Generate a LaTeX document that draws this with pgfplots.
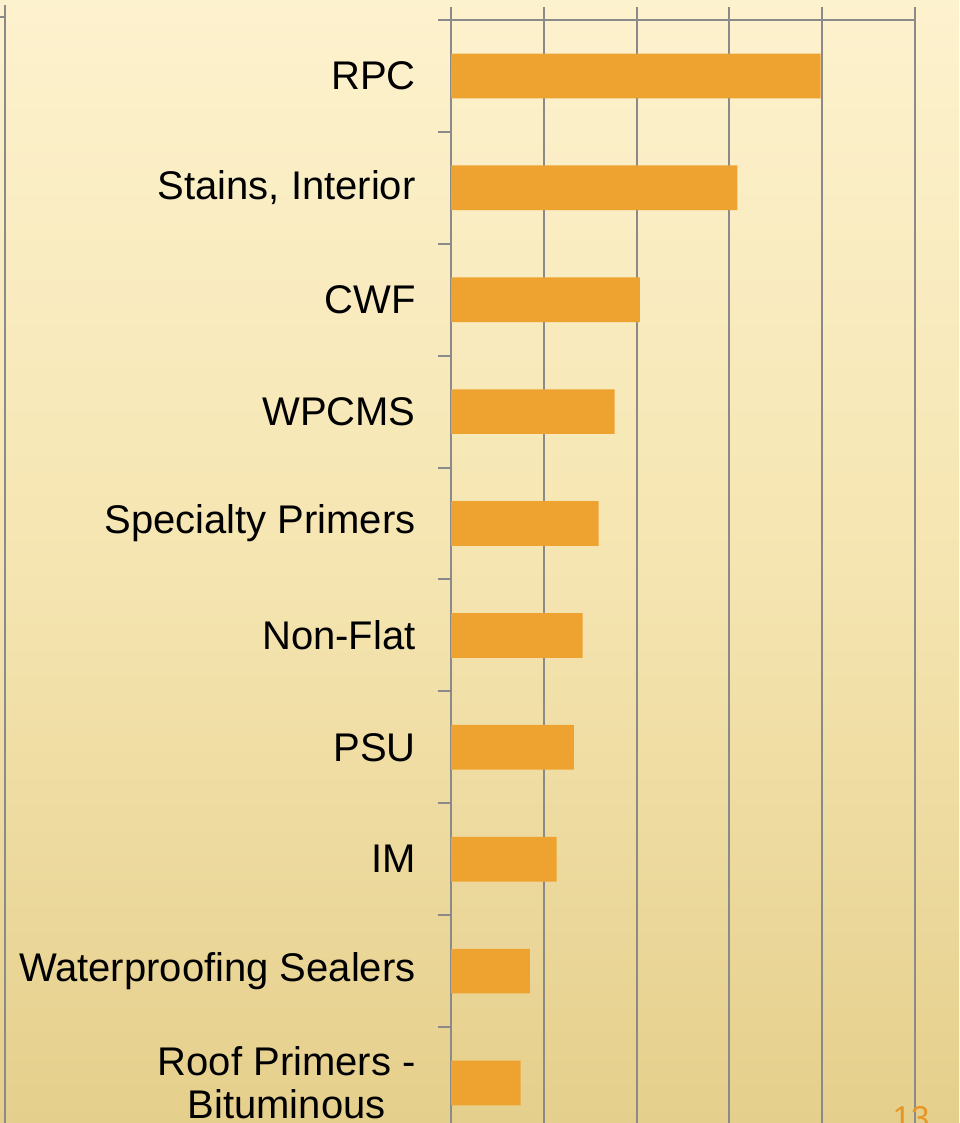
\documentclass[border=0pt]{standalone}
\usepackage{fontspec}
\setmainfont{Liberation Sans}
\usepackage{pgfplots}
\pgfplotsset{compat=1.18}
\definecolor{barc}{RGB}{238,163,48}
\definecolor{gridc}{RGB}{138,138,138}
\definecolor{bgtop}{RGB}{253,242,206}
\definecolor{bgmid}{RGB}{245,229,177}
\definecolor{bgbot}{RGB}{229,207,140}
\definecolor{numc}{RGB}{228,150,40}
\begin{document}
\begin{tikzpicture}
\useasboundingbox (0,0) rectangle (479.5pt,561.5pt);
\begin{scope}
\clip (0,0) rectangle (479.5pt,561.5pt);
\shade[top color=bgtop, bottom color=bgbot, middle color=bgmid] (0,0) rectangle (479.5pt,561.5pt);
\draw[gridc, line width=1pt] (2.5pt,0) -- (2.5pt,559pt);
\draw[gridc, line width=1pt] (0,553pt) -- (2.5pt,553pt);
\begin{axis}[
  at={(225.5pt,551.5pt)}, anchor=north west,
  scale only axis, width=232pt, height=559.5pt,
  xmin=0, xmax=5, ymin=-0.5, ymax=9.5,
  axis x line*=top, axis y line*=left,
  axis line style={gridc, line width=1pt},
  xtick={0,...,5}, xticklabels={}, xmajorgrids, grid style={gridc, line width=1pt},
  ytick={-0.5,0.5,...,9.5}, yticklabels={},
  tick align=outside, major tick length=6.5pt, tick style={gridc, line width=1pt},
  extra y ticks={0,...,9},
  extra y tick labels={Roof Primers -\\Bituminous, Waterproofing Sealers, IM, PSU, Non-Flat, Specialty Primers, WPCMS, CWF, {Stains, Interior}, RPC},
  extra y tick style={major tick length=0pt},
  yticklabel style={font=\fontsize{20}{21.5}\selectfont, align=center, inner sep=0pt, xshift=-17.5pt},
  xbar, bar width=22.35pt, bar shift=0pt,
]
\addplot[fill=barc, draw=none] coordinates {(0.749,0) (0.849,1) (1.137,2) (1.323,3) (1.419,4) (1.591,5) (1.763,6) (2.035,7) (3.086,8) (3.984,9)};
\end{axis}
\node[numc, font=\fontsize{16.5}{18}\selectfont, anchor=north, inner sep=0pt] at (455.5pt, 8.5pt) {13};
\end{scope}
\end{tikzpicture}
\end{document}
